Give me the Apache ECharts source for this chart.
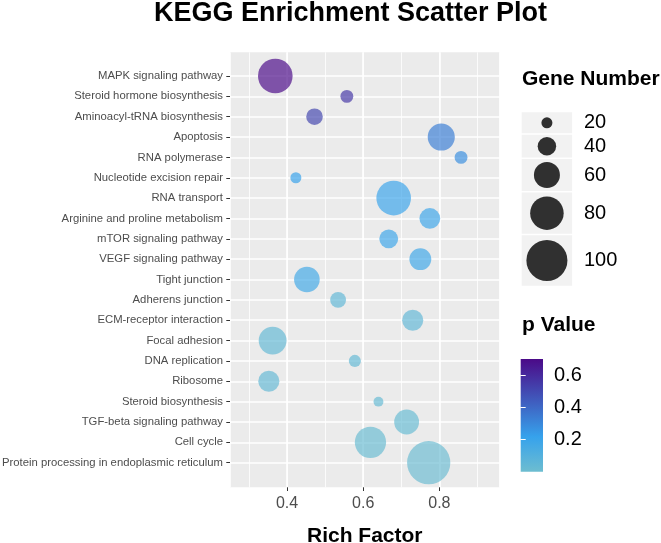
<!DOCTYPE html>
<html><head><meta charset="utf-8">
<script src="https://cdn.jsdelivr.net/npm/echarts@6/dist/echarts.min.js"></script>
<style>html,body{margin:0;padding:0;background:#fff}#c{width:661px;height:543px}</style>
</head><body><div id="c"></div>
<script>
// ---- data ----
const categories = [
  'MAPK signaling pathway','Steroid hormone biosynthesis','Aminoacyl-tRNA biosynthesis','Apoptosis',
  'RNA polymerase','Nucleotide excision repair','RNA transport','Arginine and proline metabolism',
  'mTOR signaling pathway','VEGF signaling pathway','Tight junction','Adherens junction',
  'ECM-receptor interaction','Focal adhesion','DNA replication','Ribosome','Steroid biosynthesis',
  'TGF-beta signaling pathway','Cell cycle','Protein processing in endoplasmic reticulum'
];
const richFactor = [0.369,0.557,0.472,0.805,0.857,0.423,0.680,0.775,0.667,0.750,0.452,0.534,0.730,0.362,0.578,0.352,0.640,0.714,0.619,0.772];
const geneNumber = [83,25,35,63,25,20,83,46,41,49,59,33,47,65,23,47,17,57,74,106];
const pValue = [0.70,0.56,0.51,0.33,0.28,0.22,0.20,0.19,0.19,0.18,0.17,0.05,0.045,0.04,0.035,0.03,0.025,0.02,0.01,0.005];
const xTickLabels = [0.4, 0.6, 0.8];
const sizeLegendValues = [20, 40, 60, 80, 100];
const pTickLabels = [0.2, 0.4, 0.6];

// ---- styles / scales ----
const FONT = 'Liberation Sans, Arial, Helvetica, sans-serif';
const xMin = 0.25, xMax = 0.958;
const pMin = 0, pMax = 0.70;
const colorStops = [[0, [109,189,208]], [0.31, [54,162,236]], [1, [75,10,136]]];
function colorAt(t, a) {
  t = Math.max(0, Math.min(1, t));
  for (let i = 1; i < colorStops.length; i++) {
    if (t <= colorStops[i][0]) {
      const [t0, c0] = colorStops[i-1], [t1, c1] = colorStops[i];
      const f = (t - t0) / (t1 - t0);
      const c = c0.map((v, k) => Math.round(v + (c1[k] - v) * f));
      return a == null ? `rgb(${c.join(',')})` : `rgba(${c.join(',')},${a})`;
    }
  }
}
const pColor = (p, a) => colorAt((p - pMin) / (pMax - pMin), a);
const sizeFn = v => 3.5 + 0.375 * v;

const chart = echarts.init(document.getElementById('c'), null, {renderer: 'canvas'});

// size legend graphics
const legendGraphics = [];
const keyHeights = sizeLegendValues.map(v => Math.max(21, sizeFn(v) * 1.23));
const keyW = Math.max(...keyHeights);
let ky = 112.3;
const kx = 521.7;
sizeLegendValues.forEach((v, i) => {
  const h = keyHeights[i];
  legendGraphics.push({type: 'rect', shape: {x: kx, y: ky, width: keyW, height: h}, style: {fill: '#f2f2f2'}, silent: true});
  legendGraphics.push({type: 'circle', shape: {cx: kx + keyW / 2, cy: ky + h / 2, r: sizeFn(v) / 2}, style: {fill: '#303030'}, silent: true});
  legendGraphics.push({type: 'text', x: 584, y: ky + h / 2, style: {text: String(v), fontSize: 20, fontFamily: FONT, fill: '#000', verticalAlign: 'middle', align: 'left'}, silent: true});
  ky += h + 1.5;
});

const gradient = new echarts.graphic.LinearGradient(0, 1, 0, 0,
  colorStops.map(([o, c]) => ({offset: o, color: `rgb(${c.join(',')})`})));

const option = {
  animation: false,
  backgroundColor: '#fff',
  textStyle: {fontFamily: FONT},
  title: [
    {text: 'KEGG Enrichment Scatter Plot', left: 154, top: 0, padding: 0,
     textStyle: {fontSize: 27, fontWeight: 'bold', color: '#000', fontFamily: FONT}},
    {text: 'Gene Number', left: 522, top: 69, padding: 0,
     textStyle: {fontSize: 21, fontWeight: 'bold', color: '#000', fontFamily: FONT}},
    {text: 'p Value', left: 522, top: 315, padding: 0,
     textStyle: {fontSize: 21, fontWeight: 'bold', color: '#000', fontFamily: FONT}}
  ],
  grid: [
    {left: 230, right: 161.5, top: 52.3, bottom: 55.7, show: true, backgroundColor: '#ebebeb', borderWidth: 0, containLabel: false, outerBoundsMode: 'none'},
    {left: 230, right: 161.5, top: 76, bottom: 80.3, show: false, containLabel: false, outerBoundsMode: 'none'},
    {left: 520.7, top: 359, width: 22.3, height: 112.7, show: true, backgroundColor: gradient, borderWidth: 0, containLabel: false, outerBoundsMode: 'none'}
  ],
  xAxis: [
    {gridIndex: 0, type: 'value', position: 'bottom', min: xMin, max: xMax, splitNumber: 7, minInterval: 0.1, maxInterval: 0.1,
     axisLine: {show: false}, axisTick: {show: false}, axisLabel: {show: false},
     splitLine: {show: true, lineStyle: {color: '#ffffff', width: 0.8}}},
    {gridIndex: 0, type: 'value', position: 'bottom', offset: 0, min: xMin, max: xMax, splitNumber: 4, minInterval: 0.2, maxInterval: 0.2,
     axisLine: {show: false},
     axisTick: {show: true, length: 3.7, customValues: xTickLabels, lineStyle: {color: '#333333', width: 1}},
     axisLabel: {show: true, customValues: xTickLabels, formatter: v => v.toFixed(1), fontSize: 16, color: '#4d4d4d', margin: 8.5, fontFamily: FONT},
     splitLine: {show: true, lineStyle: {color: '#ffffff', width: 1.6}},
     name: 'Rich Factor', nameLocation: 'middle', nameGap: 49,
     nameTextStyle: {fontSize: 21, fontWeight: 'bold', color: '#000', verticalAlign: 'middle', fontFamily: FONT}},
    {gridIndex: 1, type: 'value', min: xMin, max: xMax, show: false},
    {gridIndex: 2, type: 'value', min: 0, max: 1, show: false}
  ],
  yAxis: [
    {gridIndex: 0, type: 'value', min: 0, max: 1, show: false},
    {gridIndex: 1, type: 'category', data: categories, inverse: true, boundaryGap: false,
     axisLine: {show: false},
     axisTick: {show: true, length: 3.7, interval: 0, lineStyle: {color: '#333333', width: 1}},
     axisLabel: {show: true, interval: 0, fontSize: 11.3, color: '#4d4d4d', margin: 7, fontFamily: FONT},
     splitLine: {show: true, interval: 0, lineStyle: {color: '#ffffff', width: 1.6}}},
    {gridIndex: 2, type: 'value', min: pMin, max: pMax, position: 'right',
     axisLine: {show: false},
     axisTick: {show: true, inside: true, length: 5, customValues: pTickLabels, lineStyle: {color: '#ffffff', width: 1}},
     axisLabel: {show: true, customValues: pTickLabels, formatter: v => v.toFixed(1), fontSize: 20, color: '#000', margin: 11, fontFamily: FONT},
     splitLine: {show: false}},
    {gridIndex: 2, type: 'value', min: pMin, max: pMax, position: 'left',
     axisLine: {show: false},
     axisTick: {show: true, inside: true, length: 5, customValues: pTickLabels, lineStyle: {color: '#ffffff', width: 1}},
     axisLabel: {show: false}, splitLine: {show: false}}
  ],
  series: [{
    type: 'scatter', xAxisIndex: 2, yAxisIndex: 1,
    data: categories.map((c, i) => [richFactor[i], i, geneNumber[i], pValue[i]]),
    symbolSize: val => sizeFn(val[2]),
    itemStyle: {color: params => pColor(params.data[3], 0.85)},
    emphasis: {disabled: true}
  }],
  graphic: legendGraphics
};
chart.setOption(option);
</script></body></html>
